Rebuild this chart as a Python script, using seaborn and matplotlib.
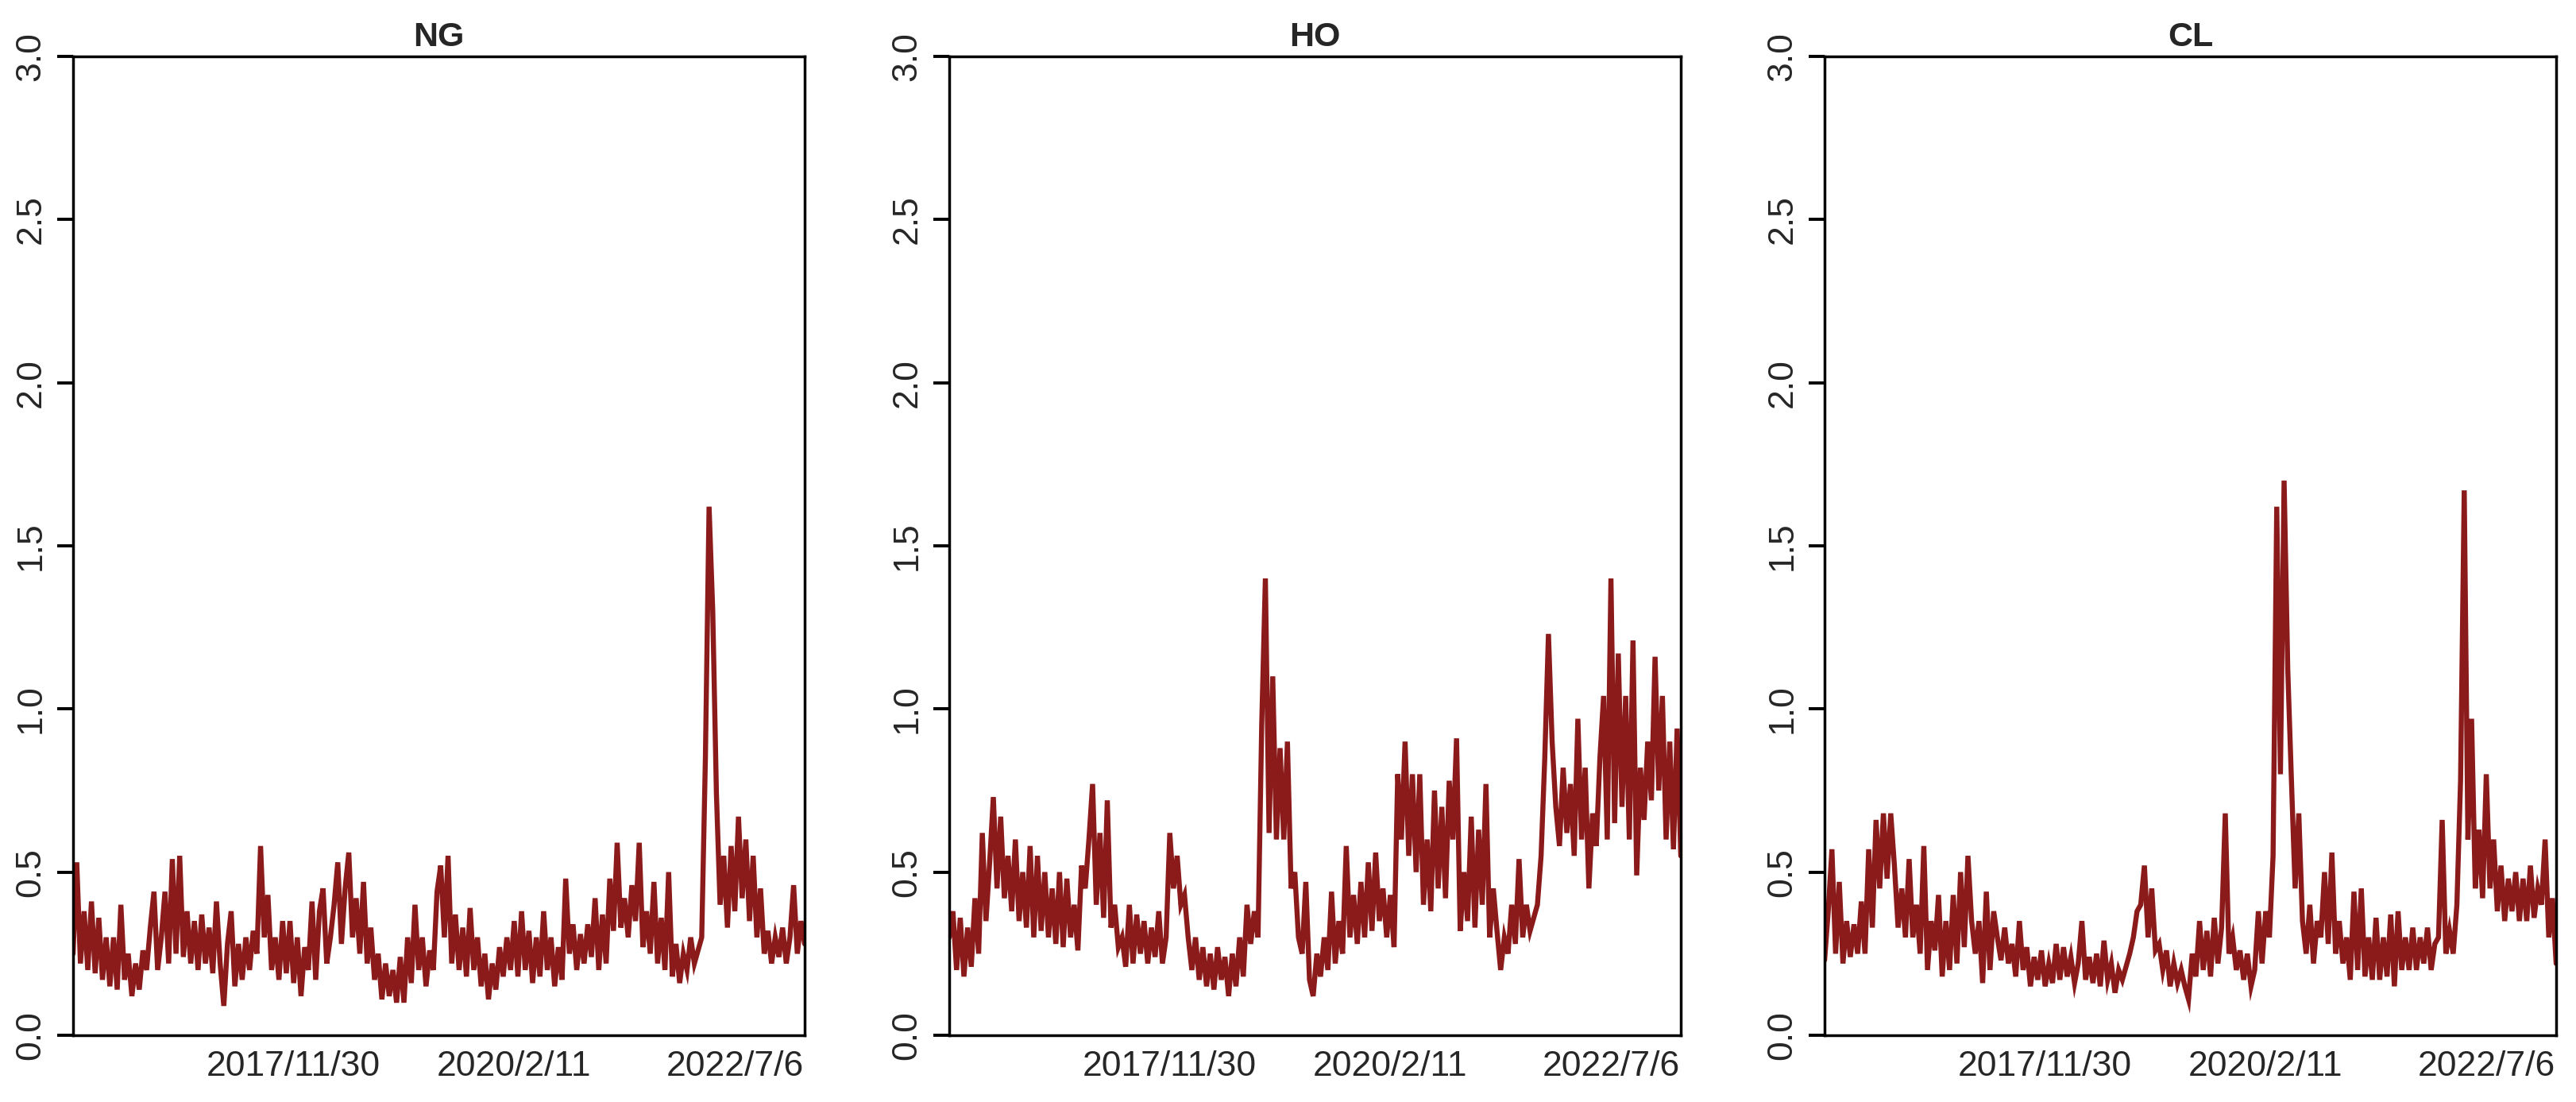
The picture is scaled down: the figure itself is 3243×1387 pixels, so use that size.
import numpy as np
import pandas as pd
import matplotlib
matplotlib.use("Agg")
import matplotlib.pyplot as plt
import seaborn as sns

sns.set_style("white")
plt.rcParams['font.family'] = ['Liberation Sans', 'DejaVu Sans']

# ---------------- data ----------------
series_names = ["NG", "HO", "CL"]

ng_values = [
    0.25, 0.53, 0.22, 0.38, 0.20, 0.41, 0.19, 0.36, 0.17, 0.30,
    0.15, 0.30, 0.14, 0.40, 0.17, 0.25, 0.12, 0.22, 0.14, 0.26,
    0.20, 0.33, 0.44, 0.20, 0.30, 0.44, 0.22, 0.54, 0.25, 0.55,
    0.24, 0.38, 0.22, 0.35, 0.20, 0.37, 0.22, 0.33, 0.19, 0.41,
    0.22, 0.09, 0.28, 0.38, 0.15, 0.28, 0.17, 0.30, 0.20, 0.32,
    0.25, 0.58, 0.30, 0.43, 0.20, 0.30, 0.17, 0.35, 0.19, 0.35,
    0.16, 0.30, 0.12, 0.27, 0.20, 0.41, 0.17, 0.38, 0.45, 0.22,
    0.30, 0.40, 0.53, 0.28, 0.45, 0.56, 0.30, 0.42, 0.25, 0.47,
    0.22, 0.33, 0.17, 0.25, 0.11, 0.22, 0.12, 0.20, 0.10, 0.24,
    0.10, 0.30, 0.16, 0.40, 0.20, 0.30, 0.15, 0.26, 0.20, 0.44,
    0.52, 0.30, 0.55, 0.22, 0.37, 0.20, 0.33, 0.18, 0.39, 0.20,
    0.30, 0.15, 0.25, 0.11, 0.22, 0.14, 0.27, 0.18, 0.30, 0.20,
    0.35, 0.18, 0.38, 0.20, 0.32, 0.16, 0.30, 0.18, 0.38, 0.20,
    0.30, 0.15, 0.27, 0.17, 0.48, 0.25, 0.34, 0.20, 0.31, 0.22,
    0.34, 0.24, 0.42, 0.20, 0.37, 0.22, 0.48, 0.32, 0.59, 0.33,
    0.42, 0.30, 0.46, 0.35, 0.59, 0.27, 0.38, 0.25, 0.47, 0.22,
    0.36, 0.20, 0.50, 0.18, 0.28, 0.16, 0.25, 0.20, 0.30, 0.22,
    0.26, 0.30, 0.85, 1.62, 1.30, 0.74, 0.40, 0.55, 0.33, 0.58,
    0.38, 0.67, 0.42, 0.60, 0.35, 0.55, 0.30, 0.45, 0.25, 0.32,
    0.22, 0.30, 0.24, 0.33, 0.22, 0.30, 0.46, 0.25, 0.35, 0.28,
]

ho_values = [
    0.30, 0.38, 0.20, 0.36, 0.18, 0.33, 0.21, 0.42, 0.25, 0.62,
    0.35, 0.53, 0.73, 0.45, 0.67, 0.42, 0.55, 0.38, 0.60, 0.35,
    0.50, 0.33, 0.58, 0.30, 0.55, 0.32, 0.50, 0.30, 0.45, 0.28,
    0.50, 0.27, 0.48, 0.30, 0.40, 0.26, 0.52, 0.45, 0.60, 0.77,
    0.40, 0.62, 0.36, 0.72, 0.33, 0.40, 0.27, 0.30, 0.21, 0.40,
    0.22, 0.37, 0.25, 0.35, 0.22, 0.33, 0.24, 0.38, 0.22, 0.30,
    0.62, 0.45, 0.55, 0.40, 0.43, 0.30, 0.20, 0.30, 0.17, 0.27,
    0.15, 0.25, 0.14, 0.27, 0.17, 0.24, 0.12, 0.25, 0.15, 0.30,
    0.18, 0.40, 0.28, 0.38, 0.30, 0.95, 1.40, 0.62, 1.10, 0.60,
    0.88, 0.60, 0.90, 0.45, 0.50, 0.30, 0.25, 0.47, 0.17, 0.12,
    0.25, 0.18, 0.30, 0.20, 0.44, 0.22, 0.35, 0.25, 0.58, 0.30,
    0.43, 0.28, 0.47, 0.30, 0.53, 0.32, 0.56, 0.35, 0.45, 0.30,
    0.43, 0.27, 0.80, 0.60, 0.90, 0.55, 0.80, 0.50, 0.80, 0.40,
    0.60, 0.38, 0.75, 0.45, 0.70, 0.42, 0.78, 0.60, 0.91, 0.32,
    0.50, 0.35, 0.67, 0.33, 0.63, 0.40, 0.77, 0.30, 0.45, 0.32,
    0.20, 0.30, 0.25, 0.40, 0.28, 0.54, 0.30, 0.40, 0.32, 0.36,
    0.40, 0.55, 0.85, 1.23, 0.90, 0.70, 0.58, 0.82, 0.62, 0.77,
    0.55, 0.97, 0.60, 0.82, 0.45, 0.68, 0.58, 0.85, 1.04, 0.60,
    1.40, 0.65, 1.17, 0.70, 1.04, 0.60, 1.21, 0.49, 0.82, 0.66,
    0.90, 0.72, 1.16, 0.75, 1.04, 0.60, 0.90, 0.57, 0.94, 0.55,
]

cl_values = [
    0.23, 0.38, 0.57, 0.25, 0.47, 0.22, 0.35, 0.24, 0.34, 0.25,
    0.41, 0.25, 0.57, 0.33, 0.66, 0.45, 0.68, 0.48, 0.68, 0.52,
    0.33, 0.45, 0.30, 0.54, 0.30, 0.40, 0.25, 0.58, 0.20, 0.35,
    0.26, 0.43, 0.18, 0.35, 0.20, 0.43, 0.22, 0.50, 0.27, 0.55,
    0.35, 0.25, 0.35, 0.16, 0.44, 0.20, 0.38, 0.30, 0.23, 0.33,
    0.22, 0.28, 0.18, 0.35, 0.20, 0.27, 0.15, 0.24, 0.17, 0.26,
    0.15, 0.22, 0.16, 0.28, 0.17, 0.27, 0.18, 0.24, 0.16, 0.22,
    0.35, 0.17, 0.24, 0.16, 0.25, 0.15, 0.29, 0.17, 0.22, 0.13,
    0.20, 0.17, 0.21, 0.25, 0.30, 0.38, 0.40, 0.52, 0.30, 0.45,
    0.26, 0.28, 0.20, 0.26, 0.15, 0.22, 0.16, 0.20, 0.15, 0.11,
    0.25, 0.18, 0.35, 0.20, 0.32, 0.18, 0.36, 0.22, 0.33, 0.68,
    0.25, 0.30, 0.20, 0.26, 0.17, 0.25, 0.15, 0.20, 0.38, 0.22,
    0.38, 0.30, 0.55, 1.62, 0.80, 1.70, 1.12, 0.78, 0.45, 0.68,
    0.35, 0.25, 0.40, 0.22, 0.35, 0.30, 0.50, 0.28, 0.56, 0.25,
    0.35, 0.22, 0.30, 0.17, 0.44, 0.20, 0.45, 0.18, 0.30, 0.17,
    0.36, 0.17, 0.30, 0.18, 0.37, 0.15, 0.38, 0.20, 0.30, 0.20,
    0.33, 0.20, 0.30, 0.22, 0.33, 0.20, 0.28, 0.30, 0.66, 0.25,
    0.32, 0.25, 0.40, 0.78, 1.67, 0.60, 0.97, 0.45, 0.63, 0.42,
    0.80, 0.45, 0.60, 0.38, 0.52, 0.35, 0.48, 0.38, 0.50, 0.35,
    0.48, 0.35, 0.52, 0.36, 0.45, 0.40, 0.60, 0.30, 0.42, 0.22,
]

n_obs = 1658                       # observations in the original series
tick_index = [500, 1000, 1500]     # observation index of the date labels
tick_labels = ["2017/11/30", "2020/2/11", "2022/7/6"]
y_ticks = [0.0, 0.5, 1.0, 1.5, 2.0, 2.5, 3.0]
y_tick_labels = ["0.0", "0.5", "1.0", "1.5", "2.0", "2.5", "3.0"]

all_values = [ng_values, ho_values, cl_values]

# ---------------- figure ----------------
W, H = 3243, 1387
fig = plt.figure(figsize=(W / 100, H / 100), dpi=100)
fig.patch.set_facecolor("white")

panel_left_px = [92, 1195, 2297]
ax_w_px = 921
ax_top_px, ax_bot_px = 71, 1303
line_color = "#8B1A1A"

for name, vals, lp in zip(series_names, all_values, panel_left_px):
    ax = fig.add_axes([lp / W, (H - ax_bot_px) / H, ax_w_px / W,
                       (ax_bot_px - ax_top_px) / H])
    x_idx = np.linspace(1, n_obs, len(vals))
    df = pd.DataFrame({"obs": x_idx, "vol": vals})
    sns.lineplot(data=df, x="obs", y="vol", ax=ax, color=line_color,
                 linewidth=4.6, estimator=None, sort=False)
    ax.lines[-1].set_solid_joinstyle("miter")
    ax.set_xlim(1, n_obs)
    ax.set_ylim(0, 3)
    ax.set_xlabel("")
    ax.set_ylabel("")
    ax.set_title(name, fontsize=31, fontweight="bold", pad=9)

    ax.set_xticks(tick_index)
    ax.set_xticklabels(tick_labels, fontsize=32)
    ax.tick_params(axis="x", length=0, pad=14)

    ax.set_yticks(y_ticks)
    ax.set_yticklabels(y_tick_labels, fontsize=32)
    ax.tick_params(axis="y", left=True, length=14.4, width=2.8,
                   direction="out", pad=9, color="black")
    for lab in ax.get_yticklabels():
        lab.set_rotation(90)
        lab.set_va("center")
        lab.set_ha("right")

    for sp in ax.spines.values():
        sp.set_visible(True)
        sp.set_color("black")
        sp.set_linewidth(2.5)
    ax.grid(False)

fig.savefig("out.png", dpi=100, facecolor="white")
